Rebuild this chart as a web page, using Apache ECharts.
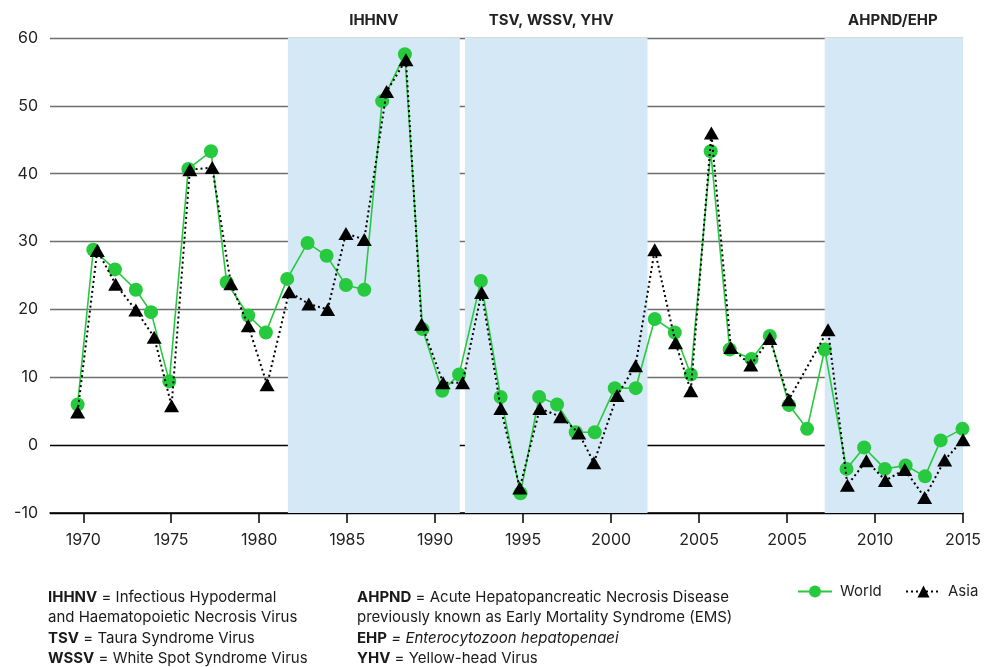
<!DOCTYPE html>
<html>
<head>
<meta charset="utf-8">
<script src="https://cdn.jsdelivr.net/npm/echarts@6/dist/echarts.min.js"></script>
<style>
html,body{margin:0;padding:0;background:#fff;}
#chart{width:985px;height:667px;}
</style>
</head>
<body>
<div id="chart"></div>
<script>
// Tick positions (axis units, 5 per labelled tick) and their printed labels
const tickPos = [0, 5, 10, 15, 20, 25, 30, 35, 40, 45, 50];
const tickLabels = ['1970','1975','1980','1985','1990','1995','2000','2005','2005','2010','2015'];

// World series: x position (axis units) and value
const worldPos = [-0.32,0.57,1.80,2.99,3.85,4.89,5.97,7.26,8.15,9.38,10.38,11.59,12.75,13.83,14.93,15.97,16.99,18.28,19.28,20.40,21.36,22.60,23.72,24.85,25.91,26.93,27.99,29.07,30.21,31.40,32.48,33.62,34.53,35.66,36.74,37.98,39.02,40.11,41.14,42.14,43.38,44.38,45.56,46.74,47.84,48.73,49.97];
const worldVal = [6.0,28.8,25.9,22.9,19.6,9.4,40.7,43.3,24.0,19.1,16.6,24.5,29.8,27.9,23.6,22.9,50.7,57.6,17.1,8.0,10.4,24.2,7.1,-7.1,7.1,6.0,1.9,1.9,8.4,8.4,18.6,16.6,10.4,43.3,14.1,12.7,16.1,5.9,2.4,14.1,-3.5,-0.35,-3.5,-3.0,-4.6,0.7,2.4];

// Asia series
const asiaPos = [-0.32,0.80,1.84,2.99,4.03,5.02,6.06,7.33,8.39,9.38,10.45,11.70,12.82,13.89,14.93,15.97,17.24,18.34,19.23,20.45,21.56,22.64,23.73,24.81,25.95,27.13,28.16,29.02,30.34,31.39,32.48,33.66,34.53,35.70,36.80,37.94,39.02,40.10,42.33,43.43,44.51,45.59,46.69,47.82,48.96,50.00];
const asiaVal = [4.9,28.7,23.7,19.9,15.9,5.8,40.6,40.9,23.8,17.6,8.9,22.6,20.8,20.0,31.2,30.3,52.1,56.8,17.8,9.2,9.2,22.5,5.4,-6.3,5.4,4.2,1.8,-2.6,7.3,11.7,28.8,15.1,8.0,46.0,14.4,11.8,15.7,6.7,17.0,-5.9,-2.3,-5.2,-3.6,-7.7,-2.2,0.8];

// Disease bands
const bandNames = ['IHHNV', 'TSV, WSSV, YHV', 'AHPND/EHP'];
const bandStart = [11.63, 21.69, 42.14];
const bandEnd = [21.40, 32.07, 50];

const FONT = 'Inter';
const GREEN = '#27c93f';

const chart = echarts.init(document.getElementById('chart'), null, {renderer: 'canvas'});

const bandData = bandNames.map((n, i) => [
  {name: n, xAxis: bandStart[i], label: i === 1 ? {offset: [-5, 0]} : (i === 2 ? {offset: [-1, 0]} : {})},
  {xAxis: bandEnd[i]}
]);

const leftNotes = [
  '{b|IHHNV} = Infectious Hypodermal',
  'and Haematopoietic Necrosis Virus',
  '{b|TSV} = Taura Syndrome Virus',
  '{b|WSSV} = White Spot Syndrome Virus'
];
const rightNotes = [
  '{b|AHPND} = Acute Hepatopancreatic Necrosis Disease',
  'previously known as Early Mortality Syndrome (EMS)',
  '{b|EHP} {i|= Enterocytozoon hepatopenaei}',
  '{b|YHV} = Yellow-head Virus'
];
const noteY = [597, 617.5, 638, 658.5];
const rich = {
  b: {fontWeight: 'bold', fontSize: 15, fontFamily: FONT, fill: '#1a1a1a'},
  i: {fontStyle: 'italic', fontSize: 15, fontFamily: FONT, fill: '#1a1a1a'}
};
const graphics = [];
leftNotes.forEach((t, i) => graphics.push({type: 'text', style: {x: 48, y: noteY[i], text: t, font: '15px ' + FONT, fill: '#1a1a1a', verticalAlign: 'middle', rich}}));
rightNotes.forEach((t, i) => graphics.push({type: 'text', style: {x: 357, y: noteY[i], text: t, font: '15px ' + FONT, fill: '#1a1a1a', verticalAlign: 'middle', rich}}));

chart.setOption({
  animation: false,
  backgroundColor: '#fff',
  grid: {left: 50, right: 22, top: 38, bottom: 154, containLabel: false},
  xAxis: {
    type: 'value', min: -1.89, max: 50,
    splitLine: {show: false},
    axisLine: {onZero: false, lineStyle: {color: '#000', width: 1.5}},
    axisTick: {show: true, length: 10, customValues: tickPos, lineStyle: {color: '#000', width: 1.5}},
    axisLabel: {
      customValues: tickPos, margin: 19, color: '#222', fontSize: 16, fontFamily: FONT,
      formatter: v => tickLabels[tickPos.indexOf(Math.round(v))] || ''
    }
  },
  yAxis: {
    type: 'value', min: -10, max: 60, interval: 10,
    axisLine: {show: false}, axisTick: {show: false},
    axisLabel: {margin: 12, color: '#222', fontSize: 16, fontFamily: FONT},
    splitLine: {lineStyle: {color: ['#000', '#000', '#6e6e6e', '#6e6e6e', '#6e6e6e', '#6e6e6e', '#6e6e6e', '#6e6e6e'], width: 1.4}}
  },
  legend: [
    {data: ['World'], left: 797, top: 584, itemWidth: 34, itemHeight: 15, padding: 0, itemGap: 0,
     textStyle: {fontSize: 15, fontFamily: FONT, color: '#222', padding: [0, 0, 0, 3]}},
    {data: ['Asia'], left: 905, top: 584, itemWidth: 35, itemHeight: 15, padding: 0, itemGap: 0,
     textStyle: {fontSize: 15, fontFamily: FONT, color: '#222', padding: [0, 0, 0, 2]}}
  ],
  graphic: graphics,
  series: [
    {
      name: 'bands', type: 'line', data: [], z: -1, silent: true,
      markArea: {
        silent: true,
        itemStyle: {color: '#d4e8f5'},
        label: {show: true, position: 'top', distance: 10, color: '#222', fontWeight: 'bold', fontSize: 15, fontFamily: FONT},
        data: bandData
      }
    },
    {
      name: 'World', type: 'line',
      data: worldPos.map((x, i) => [x, worldVal[i]]),
      symbol: 'circle', symbolSize: 14,
      lineStyle: {color: GREEN, width: 1.6},
      itemStyle: {color: GREEN},
      z: 3
    },
    {
      name: 'Asia', type: 'line',
      data: asiaPos.map((x, i) => [x, asiaVal[i]]),
      symbol: 'triangle', symbolSize: [15, 13],
      lineStyle: {color: '#000', width: 2, type: [2, 3]},
      itemStyle: {color: '#000'},
      z: 4
    }
  ]
});
</script>
</body>
</html>
